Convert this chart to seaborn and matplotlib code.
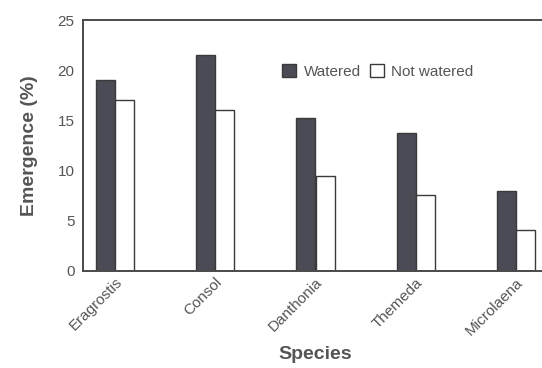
import matplotlib
matplotlib.use("Agg")
import matplotlib.pyplot as plt
import seaborn as sns
import pandas as pd

species = ["Eragrostis", "Consol", "Danthonia", "Themeda", "Microlaena"]
watered = [19.0, 21.5, 15.2, 13.7, 8.0]
not_watered = [17.0, 16.0, 9.5, 7.6, 4.1]
treatments = ["Watered", "Not watered"]
yticks = [0, 5, 10, 15, 20, 25]

df = pd.DataFrame({
    "Species": species * 2,
    "Emergence": watered + not_watered,
    "Treatment": [treatments[0]] * len(species) + [treatments[1]] * len(species),
})

sns.set_style("white")
plt.rcParams['font.family'] = ['Liberation Sans', 'DejaVu Sans']

fig = plt.figure(figsize=(5.42, 3.68), dpi=100)
ax = fig.add_axes([83/542, 1-271/368, (548-83)/542, (271-20)/368])

text_col = "#555555"
sns.barplot(data=df, x="Species", y="Emergence", hue="Treatment",
            palette={"Watered": "#4b4b55", "Not watered": "#ffffff"},
            edgecolor="#3a3a3a", linewidth=1.0, width=0.38, gap=0,
            saturation=1, ax=ax, errorbar=None)

ax.set_xlim(-0.32, 4.32)
ax.set_ylim(0, 25)
ax.set_yticks(yticks)
ax.set_yticklabels([str(t) for t in yticks], fontsize=11, color=text_col)
ax.set_xticks(range(len(species)))
ax.set_xticklabels(species, rotation=45, ha="right", rotation_mode="anchor",
                   fontsize=11, color=text_col)
ax.tick_params(axis="y", direction="out", length=3, width=0.8, color="#555555", pad=3)
ax.tick_params(axis="x", length=0, pad=3)

for s in ["left", "top", "bottom"]:
    ax.spines[s].set_visible(True)
    ax.spines[s].set_color("#4a4a4a")
    ax.spines[s].set_linewidth(1.4)
ax.spines["right"].set_visible(False)

ax.set_ylabel("Emergence (%)", fontsize=14, fontweight="bold", color=text_col, labelpad=14)
ax.set_xlabel("Species", fontsize=14, fontweight="bold", color=text_col, labelpad=6)

leg = ax.legend(ncol=2, frameon=False, loc="upper left",
                bbox_to_anchor=((276-83)/465, (271-58)/251),
                fontsize=11, handlelength=0.9, handleheight=0.9,
                handletextpad=0.5, columnspacing=0.6, borderaxespad=0)
for t in leg.get_texts():
    t.set_color(text_col)

fig.savefig("out.png", dpi=100)
